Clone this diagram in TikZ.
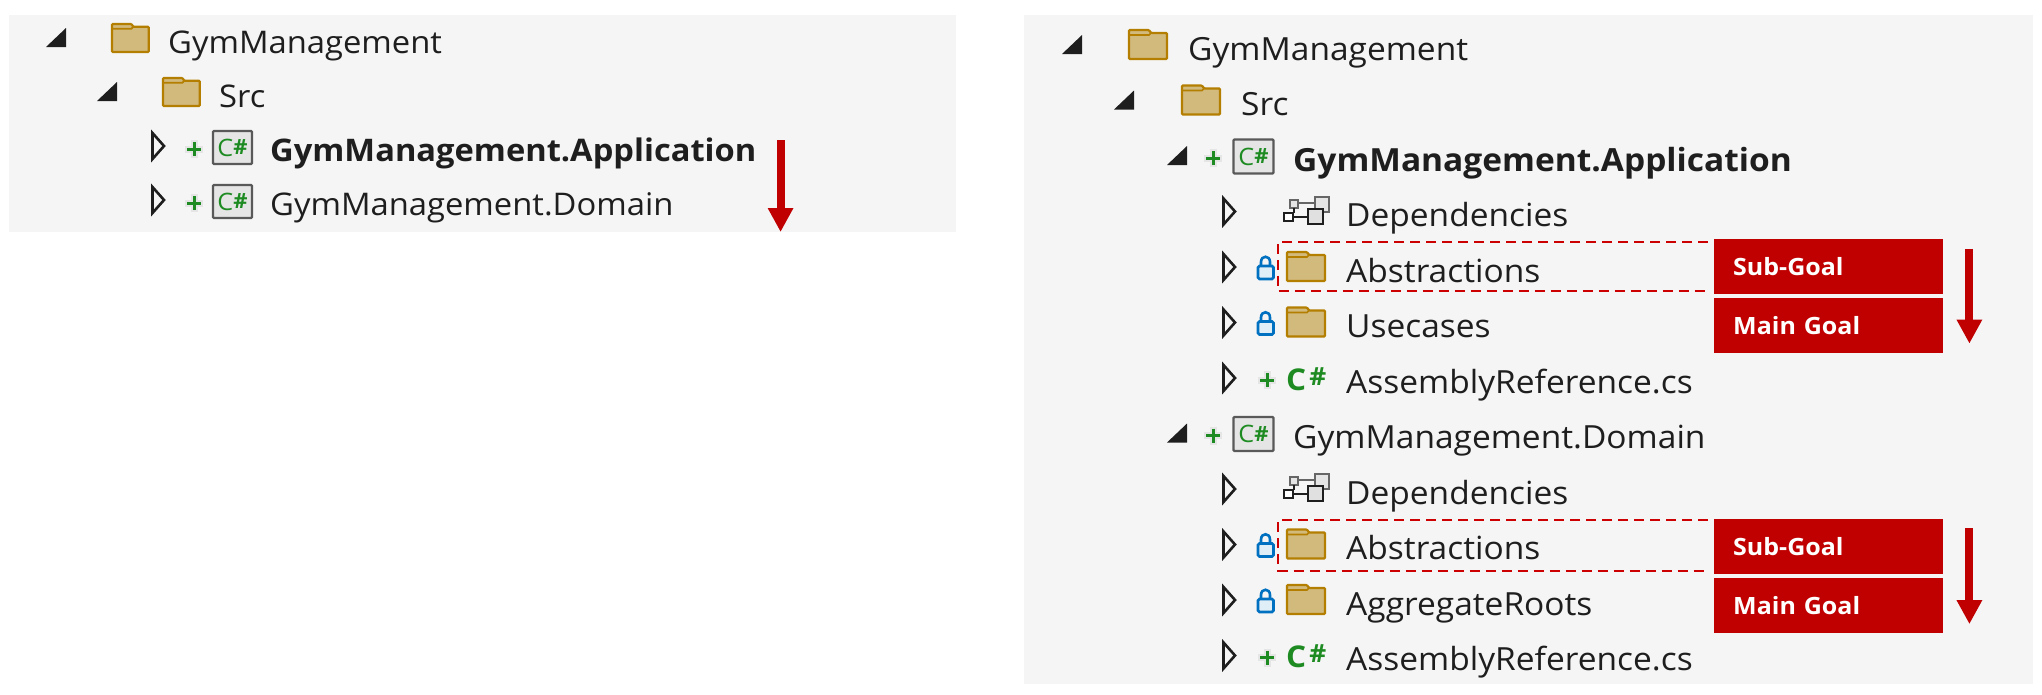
\documentclass[tikz,border=0pt]{standalone}
\usepackage{fontspec}
\setmainfont[FakeStretch=1.05]{Open Sans}
\usepackage{xcolor}
\usepackage{tikz}
\usetikzlibrary{positioning,arrows.meta}

\definecolor{panelgray}{HTML}{F5F5F5}
\definecolor{inkdark}{HTML}{1E1E1E}
\definecolor{goalred}{HTML}{C00000}
\definecolor{folderfill}{HTML}{D2B97C}
\definecolor{folderedge}{HTML}{B47E00}
\definecolor{csgreen}{HTML}{1E8B22}
\definecolor{lockblue}{HTML}{0070C0}

\begin{document}
\begin{tikzpicture}[
    x=1pt, y=-1pt,
    panel/.style={fill=panelgray, draw=none},
    item/.style={anchor=base west, inner sep=0pt, text=inkdark, font=\fontsize{31.9}{33}\selectfont},
    smallitem/.style={item, font=\fontsize{31.2}{33}\selectfont},
    rowbelow/.style={below=55.5pt of #1.base west, anchor=base west},
    smallrowbelow/.style={below=54pt of #1.base west, anchor=base west},
    goalbox/.style={
      rectangle, fill=goalred, text=white, minimum width=229pt, minimum height=55pt,
      inner sep=0pt, text width=191pt, align=left,
      text height=18pt, text depth=0pt, font=\fontsize{23.8}{24}\selectfont\bfseries
    },
    csbox/.style={
      rectangle, rounded corners=1pt, draw=black!65, line width=2.4pt, fill=black!10,
      minimum width=39pt, minimum height=33pt, inner sep=0pt, text=csgreen,
      font=\fontsize{24}{24}\selectfont
    },
    cstext/.style={
      anchor=base west, inner sep=0pt, text=csgreen, font=\fontsize{30}{30}\selectfont\bfseries
    },
    goalarrow/.style={-{Triangle[width=24pt,length=24pt]}, line width=8pt, goalred},
    subframe/.style={draw=red!80!black, line width=1.8pt, dash pattern=on 10pt off 6pt},
    folder/.pic={
      \draw[fill=folderfill, draw=folderedge, line width=2.2pt, rounded corners=1pt]
        (1,-1) -- (39,-1) -- (39,-27) -- (23,-27) -- (21,-30) -- (1,-30) -- cycle;
      \draw[draw=folderedge, line width=1.6pt] (1,-25) -- (21,-25) -- (23,-27);
    },
    closedtri/.pic={
      \draw[draw=inkdark, line width=2.6pt, fill=panelgray, miter limit=3]
        (1.5,-28) -- (13,-15) -- (1.5,-2) -- cycle;
    },
    opentri/.pic={
      \fill[inkdark] (0,-6) -- (20,-6) -- (20,-25) -- cycle;
    },
    plusmark/.pic={
      \draw[black!10, line width=7pt] (-9,0) -- (9,0) (0,-9) -- (0,9);
      \draw[csgreen, line width=3pt] (-7,0) -- (7,0) (0,-7) -- (0,7);
    },
    lockmark/.pic={
      \draw[lockblue, line width=2.6pt] (4,-16) -- (4,-20) .. controls (4,-27) and (13,-27) .. (13,-20) -- (13,-16);
      \draw[lockblue, fill=lockblue!12, line width=2.6pt, rounded corners=1.5pt] (1,-16) rectangle (16.5,-3);
    },
    depmark/.pic={
      \draw[black!60, line width=2pt] (15,-24) -- (32,-24);
      \draw[black!60, fill=black!10, line width=2pt] (7,-27) rectangle (15,-19);
      \draw[black!60, fill=black!10, line width=2pt] (32,-30) rectangle (46,-15);
      \draw[inkdark, line width=2pt] (11,-19) -- (11,-14) (10,-10) -- (25,-10);
      \draw[inkdark, fill=white, line width=2pt] (1,-14) rectangle (10,-6);
      \draw[inkdark, fill=black!12, line width=2pt] (25,-18) rectangle (40,-3);
    }
  ]
  \useasboundingbox (0,0) rectangle (2042,694);
  \fill[panel] (9,15) rectangle (956,232);
  \fill[panel] (1024,15) rectangle (2033,684);

  % Left tree
  \node[smallitem] (lroot) at (168,53) {GymManagement};
  \node[smallitem, smallrowbelow=lroot, xshift=51pt] (lsrc) {Src};
  \node[smallitem, smallrowbelow=lsrc, xshift=51pt, font=\fontsize{31.1}{33}\selectfont\bfseries] (lapp) {GymManagement.Application};
  \node[smallitem, smallrowbelow=lapp] (ldom) {GymManagement.Domain};

  \pic at ([xshift=-122pt]lroot.base west) {opentri};
  \pic[scale=0.97] at ([xshift=-57pt]lroot.base west) {folder};
  \pic at ([xshift=-122pt]lsrc.base west) {opentri};
  \pic[scale=0.97] at ([xshift=-57pt]lsrc.base west) {folder};
  \pic at ([xshift=-119pt]lapp.base west) {closedtri};
  \pic at ([xshift=-76pt,yshift=12pt]lapp.base west) {plusmark};
  \node[csbox] (lappcs) at ([xshift=-37.5pt,yshift=13.5pt]lapp.base west) {C\raisebox{1.5pt}{\fontsize{21}{21}\selectfont\bfseries\#}};
  \pic at ([xshift=-119pt]ldom.base west) {closedtri};
  \pic at ([xshift=-76pt,yshift=12pt]ldom.base west) {plusmark};
  \node[csbox] (ldomcs) at ([xshift=-37.5pt,yshift=13.5pt]ldom.base west) {C\raisebox{1.5pt}{\fontsize{21}{21}\selectfont\bfseries\#}};

  \coordinate (larrowtop) at ([xshift=24pt,yshift=21pt]lapp.base east);
  \coordinate (larrowend) at ([xshift=24pt,yshift=-71pt]lapp.base east);
  \draw[goalarrow] (larrowtop) -- (larrowend);

  % Right tree, top rows
  \node[item] (root) at (1188,60) {GymManagement};
  \node[item, rowbelow=root, xshift=53pt] (src) {Src};
  \node[item, rowbelow=src, xshift=52pt, font=\fontsize{31.9}{33}\selectfont\bfseries] (app) {GymManagement.Application};
  \node[item, rowbelow=app, xshift=53pt] (dep1) {Dependencies};
  \node[item, rowbelow=dep1] (abs1) {Abstractions};
  \node[item, rowbelow=abs1] (use1) {Usecases};
  \node[item, rowbelow=use1] (asm1) {AssemblyReference.cs};

  % Right tree, bottom rows
  \node[item, rowbelow=asm1, xshift=-53pt] (dom) {GymManagement.Domain};
  \node[item, rowbelow=dom, xshift=53pt] (dep2) {Dependencies};
  \node[item, rowbelow=dep2] (abs2) {Abstractions};
  \node[item, rowbelow=abs2] (agg2) {AggregateRoots};
  \node[item, rowbelow=agg2] (asm2) {AssemblyReference.cs};

  % Icons of the top rows
  \pic at ([xshift=-126pt]root.base west) {opentri};
  \pic at ([xshift=-60pt]root.base west) {folder};
  \pic at ([xshift=-127pt]src.base west) {opentri};
  \pic at ([xshift=-60pt]src.base west) {folder};
  \pic at ([xshift=-126pt]app.base west) {opentri};
  \pic at ([xshift=-80pt,yshift=13pt]app.base west) {plusmark};
  \node[csbox, minimum width=40pt, minimum height=34pt] (appcs) at ([xshift=-39.5pt,yshift=14.5pt]app.base west) {C\raisebox{1.5pt}{\fontsize{21}{21}\selectfont\bfseries\#}};
  \pic at ([xshift=-124pt]dep1.base west) {closedtri};
  \pic at ([xshift=-63pt]dep1.base west) {depmark};
  \pic at ([xshift=-124pt]abs1.base west) {closedtri};
  \pic at ([xshift=-89pt]abs1.base west) {lockmark};
  \pic at ([xshift=-60pt]abs1.base west) {folder};
  \pic at ([xshift=-124pt]use1.base west) {closedtri};
  \pic at ([xshift=-89pt]use1.base west) {lockmark};
  \pic at ([xshift=-60pt]use1.base west) {folder};
  \pic at ([xshift=-124pt]asm1.base west) {closedtri};
  \pic at ([xshift=-79pt,yshift=13pt]asm1.base west) {plusmark};
  \node[cstext] (asm1cs) at ([xshift=-60pt,yshift=3pt]asm1.base west) {C\hspace{3pt}\raisebox{5pt}{\fontsize{25}{25}\selectfont\#}};

  % Icons of the bottom rows
  \pic at ([xshift=-126pt]dom.base west) {opentri};
  \pic at ([xshift=-80pt,yshift=13pt]dom.base west) {plusmark};
  \node[csbox, minimum width=40pt, minimum height=34pt] (domcs) at ([xshift=-39.5pt,yshift=14.5pt]dom.base west) {C\raisebox{1.5pt}{\fontsize{21}{21}\selectfont\bfseries\#}};
  \pic at ([xshift=-124pt]dep2.base west) {closedtri};
  \pic at ([xshift=-63pt]dep2.base west) {depmark};
  \pic at ([xshift=-124pt]abs2.base west) {closedtri};
  \pic at ([xshift=-89pt]abs2.base west) {lockmark};
  \pic at ([xshift=-60pt]abs2.base west) {folder};
  \pic at ([xshift=-124pt]agg2.base west) {closedtri};
  \pic at ([xshift=-89pt]agg2.base west) {lockmark};
  \pic at ([xshift=-60pt]agg2.base west) {folder};
  \pic at ([xshift=-124pt]asm2.base west) {closedtri};
  \pic at ([xshift=-79pt,yshift=13pt]asm2.base west) {plusmark};
  \node[cstext] (asm2cs) at ([xshift=-60pt,yshift=3pt]asm2.base west) {C\hspace{3pt}\raisebox{5pt}{\fontsize{25}{25}\selectfont\#}};

  % Goal boxes
  \node[goalbox, anchor=west] (sub1) at ([xshift=368pt,yshift=15.5pt]abs1.base west) {Sub-Goal};
  \node[goalbox, below=4pt of sub1] (main1) {Main Goal};
  \node[goalbox, anchor=west] (sub2) at ([xshift=368pt,yshift=13.5pt]abs2.base west) {Sub-Goal};
  \node[goalbox, below=4pt of sub2] (main2) {Main Goal};

  % Dashed frames
  \coordinate (frametop1) at ([xshift=-6pt,yshift=-3pt]sub1.north west);
  \coordinate (framebot1) at ([xshift=-6pt,yshift=3pt]sub1.south west);
  \coordinate (frameleft1) at ([xshift=-68pt]abs1.base west);
  \draw[subframe] (frametop1) -| (frameleft1) |- (framebot1);
  \coordinate (frametop2) at ([xshift=-6pt,yshift=-2pt]sub2.north west);
  \coordinate (framebot2) at ([xshift=-6pt,yshift=3pt]sub2.south west);
  \coordinate (frameleft2) at ([xshift=-68pt]abs2.base west);
  \draw[subframe] (frametop2) -| (frameleft2) |- (framebot2);

  % Goal arrows
  \coordinate (arrowtop1) at ([xshift=26pt,yshift=-10pt]sub1.north east);
  \coordinate (arrowend1) at ([xshift=26pt,yshift=10pt]main1.south east);
  \draw[goalarrow] (arrowtop1) -- (arrowend1);
  \coordinate (arrowtop2) at ([xshift=26pt,yshift=-10pt]sub2.north east);
  \coordinate (arrowend2) at ([xshift=26pt,yshift=9pt]main2.south east);
  \draw[goalarrow] (arrowtop2) -- (arrowend2);

\end{tikzpicture}
\end{document}
